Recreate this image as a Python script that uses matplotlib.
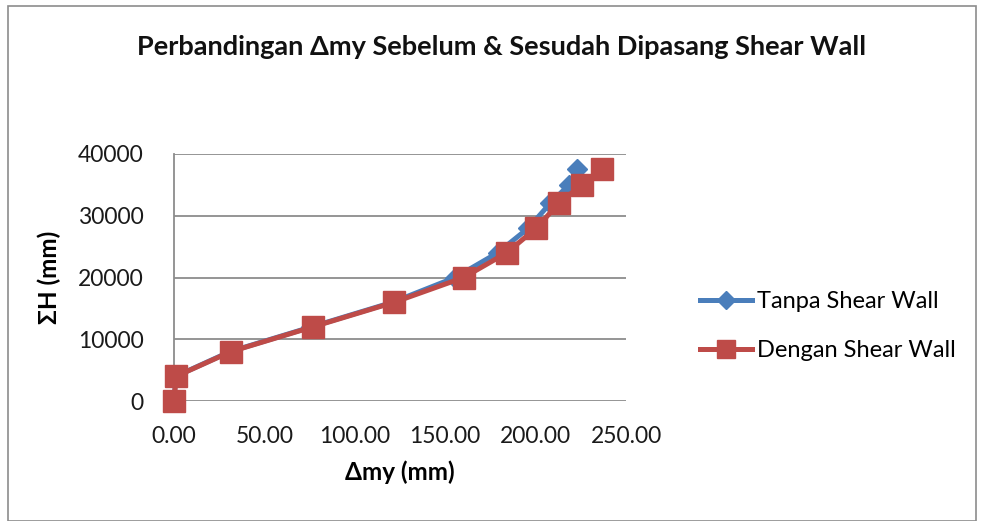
import matplotlib
matplotlib.use("Agg")
import matplotlib.pyplot as plt
from matplotlib.patches import Rectangle

plt.rcParams['font.family'] = ['Lato', 'DejaVu Sans']

# storey heights (mm) and drift (mm)
tinggi = [0, 4000, 8000, 12000, 16000, 20000, 24000, 28000, 32000, 35000, 37500]
tanpa_sw = [0.0, 1.0, 31.0, 76.0, 121.0, 155.5, 179.0, 196.0, 208.0, 218.5, 223.0]
dengan_sw = [0.0, 1.2, 31.5, 76.7, 121.9, 160.2, 184.0, 200.4, 212.8, 225.5, 236.5]

x_ticks = [0, 50, 100, 150, 200, 250]
y_ticks = [0, 10000, 20000, 30000, 40000]

blue = '#4a7ebb'
red = '#be4b48'
grid_col = '#8c8c8c'

fig = plt.figure(figsize=(9.82, 5.21), dpi=100)
ax = fig.add_axes([174/982, 1 - 401/521, (626-174)/982, (401-154)/521])

ax.plot(tanpa_sw, tinggi, color=blue, lw=3.6, marker='D', ms=10.5,
        mfc=blue, mec=blue, label='Tanpa Shear Wall', zorder=3)
ax.plot(dengan_sw, tinggi, color=red, lw=3.6, marker='s', ms=15.5,
        mfc=red, mec=red, label='Dengan Shear Wall', zorder=4)

ax.set_xlim(0, 250)
ax.set_ylim(0, 40000)
ax.set_xticks(x_ticks)
ax.set_xticklabels([f"{v:.2f}" for v in x_ticks])
ax.set_yticks(y_ticks)
ax.set_yticklabels([str(v) for v in y_ticks])
ax.tick_params(length=0, labelsize=16.5, colors='#1a1a1a')
ax.tick_params(axis='x', pad=18)
ax.tick_params(axis='y', pad=22)

ax.yaxis.grid(True, color=grid_col, lw=1.3)
ax.set_axisbelow(True)
for s in ['top', 'right', 'bottom']:
    ax.spines[s].set_visible(False)
ax.spines['left'].set_color(grid_col)
ax.spines['left'].set_linewidth(1.3)
for ln in ax.get_lines():
    ln.set_clip_on(False)

ax.set_xlabel('Δmy (mm)', fontsize=17.5, fontweight='bold', labelpad=10)
ax.set_ylabel('ΣH (mm)', fontsize=17.5, fontweight='bold', labelpad=12)

fig.text(502/982, 1 - 47/521, 'Perbandingan Δmy Sebelum & Sesudah Dipasang Shear Wall',
         ha='center', va='center', fontsize=19.5, fontweight='bold', color='#111111')

leg = ax.legend(loc='center left', bbox_to_anchor=(700/982, 1 - 326/521),
                bbox_transform=fig.transFigure, frameon=False, fontsize=17,
                handlelength=2.2, handletextpad=0.2, labelspacing=1.18,
                borderpad=0, borderaxespad=0, markerscale=0.85)

fig.patches.append(Rectangle((8/982, 0), 968/982, 1 - 6/521, transform=fig.transFigure,
                             fill=False, edgecolor='#8c8c8c', lw=1.2))

fig.savefig('out.png', dpi=100)
